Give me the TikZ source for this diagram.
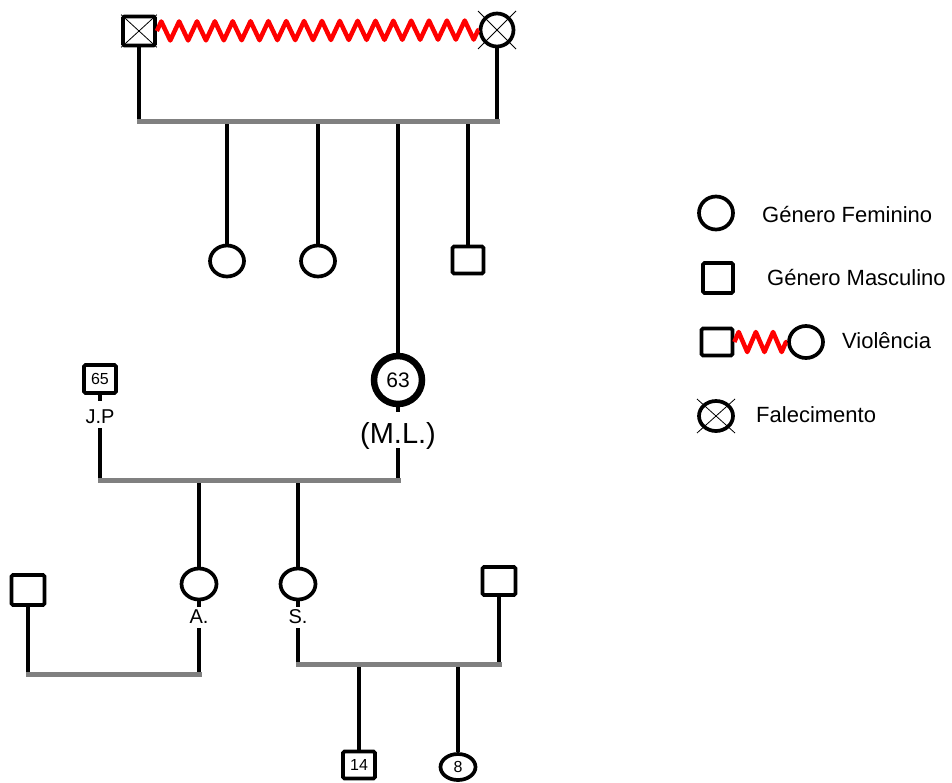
\documentclass[tikz,border=0pt]{standalone}
\usepackage{fontspec}
\setmainfont{Liberation Sans}
\usetikzlibrary{shapes.geometric,decorations.pathmorphing}

\begin{document}
\begin{tikzpicture}[x=1pt,y=-1pt,
  fem/.style={ellipse,draw,line width=3.7pt,minimum width=34pt,minimum height=31pt,inner sep=0pt},
  masc/.style={rectangle,draw,line width=3.7pt,minimum width=32pt,minimum height=29pt,inner sep=0pt,rounded corners=1.5pt},
  kin/.style={line width=4.5pt},
  sibbar/.style={line width=5pt,draw=gray,line cap=rect},
  viol/.style={draw=red,line width=4.5pt,line join=round,decorate,decoration={zigzag,segment length=17.85pt,amplitude=9.5pt}},
  xline/.style={line width=0.8pt},
  plabel/.style={anchor=base,inner sep=0pt,text depth=5pt,font=\fontsize{20}{20}\selectfont},
  age/.style={font=\fontsize{16}{16}\selectfont},
  legtext/.style={anchor=base west,inner sep=0pt,font=\fontsize{22}{22}\selectfont}]

\path[use as bounding box] (0,0) rectangle (952,782);

% ---------- grandparents, joined by a violence line ----------
\node[masc,minimum width=32pt,minimum height=29pt] (gf) at (139,31) {};
\draw[xline] (gf.north west) -- (gf.south east) (gf.north east) -- (gf.south west);
\node[circle,draw,line width=3.7pt,minimum size=33pt,inner sep=0pt] (gm) at (497,30) {};
\draw[xline] ([shift={(-19,-19)}]gm.center) -- ([shift={(19,19)}]gm.center)
             ([shift={(19,-19)}]gm.center) -- ([shift={(-19,19)}]gm.center);
\draw[viol] (gf.east) -- (gm.west);

\coordinate (s1l) at (139,121);
\coordinate (s1r) at (497,121);

% their children
\node[fem] (d1) at (227,261) {};
\node[fem] (d2) at (318,261) {};
\node[masc,minimum width=31pt,minimum height=27pt] (son) at (468,260) {};
\node[circle,draw,line width=6.5pt,minimum size=48pt,inner sep=0pt,font=\fontsize{21}{21}\selectfont] (ml) at (398,380) {63};
\node[plabel,text height=31pt,font=\fontsize{29}{29}\selectfont] (mllbl) at (398,443) {(M.L.)};

\draw[kin] (gf) -- (gf |- s1l);
\draw[kin] (gm) -- (gm |- s1r);
\draw[kin] (d1) -- (d1 |- s1l);
\draw[kin] (d2) -- (d2 |- s1l);
\draw[kin] (son) -- (son |- s1l);
\draw[kin] (ml) -- (ml |- s1l);
\draw[sibbar] (s1l) -- (s1r);

% ---------- M.L. and J.P ----------
\node[masc,minimum width=32pt,minimum height=28pt,age] (jp) at (100,379) {65};
\node[plabel,text height=22pt] (jplbl) at (100,423) {J.P};
\coordinate (s2l) at (100,480);
\coordinate (s2r) at (398,480);

\node[fem,minimum width=35pt,minimum height=31pt] (a) at (199,584) {};
\node[plabel,text height=16pt] (albl) at (199,623) {A.};
\node[fem,minimum width=35pt,minimum height=31pt] (s) at (298,584) {};
\node[plabel,text height=16pt] (slbl) at (298,623) {S.};

\draw[kin] (jp) -- (jplbl);
\draw[kin] (jplbl) -- (s2l);
\draw[kin] (ml) -- (mllbl);
\draw[kin] (mllbl) -- (s2r);
\draw[kin] (a) -- (a |- s2l);
\draw[kin] (s) -- (s |- s2l);
\draw[sibbar] (s2l) -- (s2r);
\draw[kin] (a) -- (albl);
\draw[kin] (s) -- (slbl);

% ---------- A. and partner ----------
\node[masc,minimum width=33pt,minimum height=30pt] (pa) at (28,590) {};
\coordinate (s3l) at (28,674);
\coordinate (s3r) at (199,674);
\draw[kin] (pa) -- (s3l);
\draw[kin] (albl) -- (s3r);
\draw[sibbar] (s3l) -- (s3r);

% ---------- S. and partner, with their children ----------
\node[masc,minimum width=33pt,minimum height=28pt] (ps) at (499,581) {};
\coordinate (s4l) at (298,664);
\coordinate (s4r) at (499,664);
\node[masc,minimum width=32pt,minimum height=27pt,age] (k14) at (359,765) {14};
\node[fem,minimum width=35pt,minimum height=26pt,age] (k8) at (458,767) {8};
\draw[kin] (slbl) -- (s4l);
\draw[kin] (ps) -- (s4r);
\draw[kin] (k14) -- (k14 |- s4l);
\draw[kin] (k8) -- (k8 |- s4l);
\draw[sibbar] (s4l) -- (s4r);

% ---------- legend ----------
\node[fem,minimum width=34pt,minimum height=33pt] (lf) at (716,213) {};
\node[legtext] (lft) at (762,222) {Género Feminino};
\node[masc,minimum width=30pt,minimum height=30pt] (lm) at (718,278) {};
\node[legtext] (lmt) at (767,285) {Género Masculino};
\node[masc,minimum width=31pt,minimum height=27pt] (lvm) at (717,342) {};
\node[fem,minimum width=34pt,minimum height=32pt] (lvf) at (806,342) {};
\draw[viol,decoration={segment length=17.2pt,amplitude=10pt}] (lvm.east) -- (lvf.west);
\node[legtext] (lvt) at (842,348) {Violência};
\node[fem,minimum width=34pt,minimum height=30pt] (ld) at (716,416) {};
\draw[xline] ([shift={(-19,-17)}]ld.center) -- ([shift={(19,17)}]ld.center)
             ([shift={(19,-17)}]ld.center) -- ([shift={(-19,17)}]ld.center);
\node[legtext] (ldt) at (756,422) {Falecimento};
\end{tikzpicture}
\end{document}
